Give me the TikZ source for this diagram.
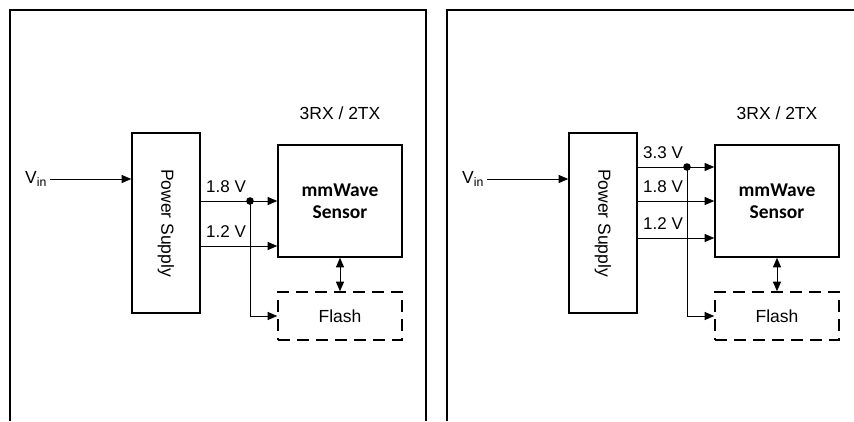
\documentclass[tikz,border=0pt]{standalone}
\usepackage{fontspec}
\setmainfont{Liberation Sans}
\newfontfamily\calibri{Carlito}
\usetikzlibrary{arrows.meta}

\tikzset{
    box/.style={draw, line width=1.6pt, inner sep=0pt},
    flashbox/.style={box, dash pattern=on 12pt off 7pt, minimum width=124pt, minimum height=48pt, font=\fontsize{17.5}{20}\selectfont},
    sensorbox/.style={box, minimum width=124pt, minimum height=112pt, align=center, font=\calibri\bfseries\fontsize{19.5}{22}\selectfont},
    supplybox/.style={box, minimum width=68pt, minimum height=180pt},
    wire/.style={line width=0.8pt, -{Triangle[length=9.5pt,width=8pt]}},
    dblwire/.style={line width=0.8pt, {Triangle[length=9.5pt,width=8pt]}-{Triangle[length=9.5pt,width=8pt]}},
    volt/.style={anchor=south west, inner sep=0pt, xshift=5pt, yshift=8pt, font=\fontsize{17}{20}\selectfont},
    txt/.style={font=\fontsize{17.5}{20}\selectfont},
    frame/.style={line width=1.6pt}
}

\begin{document}
\begin{tikzpicture}[x=1pt, y=-1pt]
    \useasboundingbox (0,0) rectangle (854,421);
    % Left panel
    \draw[frame] (10,421) -- (10,10) -- (426,10) -- (426,421);
    \node[supplybox] (psL) at (166,223) {};
    \node[txt, rotate=-90] (psLtext) at (psL.center) {Power Supply};
    \node[sensorbox] (senL) at (340,201) {mmWave\\Sensor};
    \node[flashbox] (flashL) at (340,316) {Flash};
    \node[txt] (bandL) at (340,113) {3RX / 2TX};
    \node[txt] (vinL) at (36,179) {V\textsubscript{in}};
    \draw[wire] (vinL.east) -- (vinL.east -| psL.west);
    % Rails
    \coordinate (dotL) at (250,201);
    \coordinate (l12) at (psL.east |- 0,246);
    \draw[wire] (dotL -| psL.east) node[volt] {1.8 V} -- (dotL -| senL.west);
    \draw[wire] (l12) node[volt] {1.2 V} -- (l12 -| senL.west);
    \fill (dotL) circle (3.8pt);
    \draw[wire] (dotL) |- (flashL.west);
    \draw[dblwire] (senL.south) -- (flashL.north);

    % Right panel
    \draw[frame] (447,421) -- (447,10) -- (854,10);
    \node[supplybox] (psR) at (603,223) {};
    \node[txt, rotate=-90] (psRtext) at (psR.center) {Power Supply};
    \node[sensorbox] (senR) at (777,201) {mmWave\\Sensor};
    \node[flashbox] (flashR) at (777,316) {Flash};
    \node[txt] (bandR) at (777,113) {3RX / 2TX};
    \node[txt] (vinR) at (473,179) {V\textsubscript{in}};
    \draw[wire] (vinR.east) -- (vinR.east -| psR.west);
    % Rails
    \coordinate (dotR) at (687,167);
    \coordinate (r18) at (psR.east |- 0,201);
    \coordinate (r12) at (psR.east |- 0,238);
    \draw[wire] (dotR -| psR.east) node[volt] {3.3 V} -- (dotR -| senR.west);
    \draw[wire] (r18) node[volt] {1.8 V} -- (r18 -| senR.west);
    \draw[wire] (r12) node[volt] {1.2 V} -- (r12 -| senR.west);
    \fill (dotR) circle (3.8pt);
    \draw[wire] (dotR) |- (flashR.west);
    \draw[dblwire] (senR.south) -- (flashR.north);
\end{tikzpicture}
\end{document}
